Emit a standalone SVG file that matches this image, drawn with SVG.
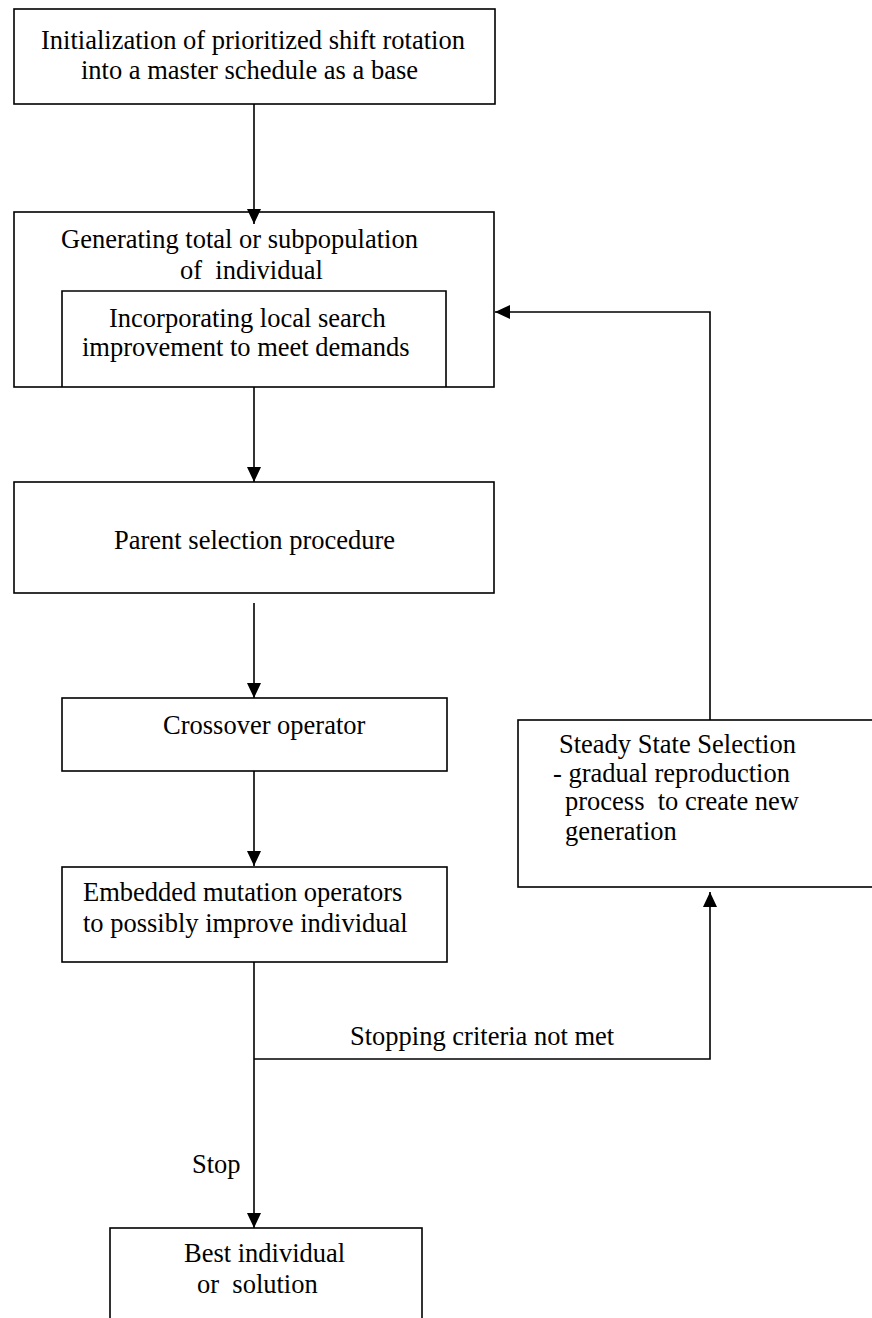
<svg xmlns="http://www.w3.org/2000/svg" width="872" height="1318" viewBox="0 0 872 1318">
<style>
.box{fill:none;stroke:#000;stroke-width:1.6}
.ln{fill:none;stroke:#000;stroke-width:1.6}
text{font-family:"Liberation Serif","Times New Roman",serif;font-size:26.5px;fill:#000;white-space:pre}
</style>
<defs>
<marker id="ah" viewBox="0 0 15 14" refX="15" refY="7" markerWidth="15" markerHeight="14" markerUnits="userSpaceOnUse" orient="auto">
<path d="M0,0 L15,7 L0,14 z" fill="#000"/>
</marker>
</defs>
<rect width="872" height="1318" fill="#fff"/>
<g id="connectors">
<line class="ln" x1="254" y1="104" x2="254" y2="224" marker-end="url(#ah)"/>
<line class="ln" x1="254" y1="387" x2="254" y2="482" marker-end="url(#ah)"/>
<line class="ln" x1="254" y1="603" x2="254" y2="698" marker-end="url(#ah)"/>
<line class="ln" x1="254" y1="771" x2="254" y2="866" marker-end="url(#ah)"/>
<line class="ln" x1="254" y1="962" x2="254" y2="1228" marker-end="url(#ah)"/>
<polyline class="ln" points="254,1059 710,1059 710,892" marker-end="url(#ah)"/>
<polyline class="ln" points="710,720 710,312 495,312" marker-end="url(#ah)"/>
<text x="350" y="1045">Stopping criteria not met</text>
<text x="192" y="1173">Stop</text>
</g>
<g id="init">
<rect class="box" x="14" y="9" width="481" height="95"/>
<text x="41" y="49">Initialization of prioritized shift rotation</text>
<text x="81" y="79">into a master schedule as a base</text>
</g>
<g id="generate">
<rect class="box" x="14" y="212" width="480" height="175"/>
<text x="61" y="248">Generating total or subpopulation</text>
<text x="180" y="279">of  individual</text>
</g>
<g id="localsearch">
<path class="box" d="M62,387 V291 H446 V387"/>
<text x="109" y="327">Incorporating local search</text>
<text x="82" y="356">improvement to meet demands</text>
</g>
<g id="parent">
<rect class="box" x="14" y="482" width="480" height="111"/>
<text x="114" y="549">Parent selection procedure</text>
</g>
<g id="crossover">
<rect class="box" x="62" y="698" width="385" height="73"/>
<text x="163" y="734">Crossover operator</text>
</g>
<g id="mutation">
<rect class="box" x="62" y="867" width="385" height="95"/>
<text x="83" y="901">Embedded mutation operators</text>
<text x="83" y="932">to possibly improve individual</text>
</g>
<g id="steady">
<rect class="box" x="518" y="720" width="370" height="167"/>
<text x="559" y="753">Steady State Selection</text>
<text x="553" y="782">- gradual reproduction</text>
<text x="565" y="810">process  to create new</text>
<text x="565" y="840">generation</text>
</g>
<g id="best">
<rect class="box" x="110" y="1228" width="312" height="110"/>
<text x="184" y="1262">Best individual</text>
<text x="197" y="1293">or  solution</text>
</g>
</svg>
